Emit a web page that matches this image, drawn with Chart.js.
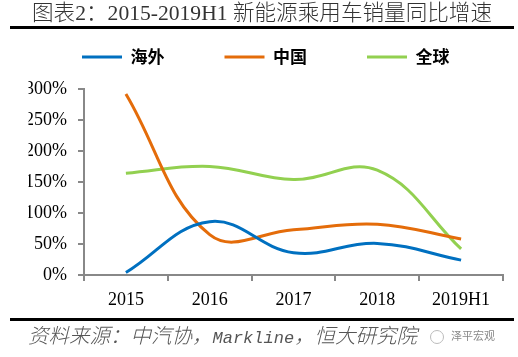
<!DOCTYPE html>
<html>
<head>
<meta charset="utf-8">
<script src="https://cdn.jsdelivr.net/npm/chart.js@4/dist/chart.umd.min.js"></script>
<style>
  html, body { margin: 0; padding: 0; background: #fff; }
  #wrap { position: relative; width: 518px; height: 357px; overflow: hidden; }
  #c { position: absolute; left: 0; top: 0; }
  .title { position: absolute; left: 32px; top: 1px; font-family: "Liberation Serif", "Noto Sans CJK SC", serif; font-weight: 300; font-size: 21.6px; color: #333; white-space: nowrap; line-height: 24px; }
  .rule { position: absolute; left: 10px; width: 504px; height: 3px; background: #000; }
  .foot { position: absolute; left: 28px; top: 322px; font-family: "Noto Sans CJK SC", sans-serif; font-weight: 300; font-style: italic; font-size: 20.5px; color: #555; white-space: nowrap; line-height: 24px; }
  .foot .lat { font-family: "Liberation Mono", monospace; font-size: 17px; }
  .wm { position: absolute; left: 430px; top: 327px; font-family: "Noto Sans CJK SC", sans-serif; font-size: 11px; color: #888; white-space: nowrap; line-height: 16px; }
  .wm span.ic { display: inline-block; width: 12px; height: 12px; border: 1px solid #bbb; border-radius: 50%; vertical-align: middle; margin-right: 7px; }
</style>
</head>
<body>
<div id="wrap">
  <canvas id="c" width="518" height="357"></canvas>
  <div class="title">图表2：2015-2019H1 新能源乘用车销量同比增速</div>
  <div class="rule" style="top:26px;"></div>
  <div class="rule" style="top:318px;"></div>
  <div class="foot">资料来源：中汽协，<span class="lat">Markline</span>，恒大研究院</div>
  <div class="wm"><span class="ic"></span>泽平宏观</div>
</div>
<script>
const categories = ["2015", "2016", "2017", "2018", "2019H1"];
const seriesNames = ["海外", "中国", "全球"];
const overseas = [4, 86, 36, 51, 24];
const china = [292, 65, 73, 82, 58];
const globalSales = [164, 175, 154, 169, 42];
const yTicks = [0, 50, 100, 150, 200, 250, 300];

const colors = ["#0070C0", "#E46C0A", "#92D050"];
const seriesValues = [overseas, china, globalSales];

const datasets = seriesNames.map((name, i) => ({
  label: name,
  data: seriesValues[i],
  borderColor: colors[i],
  backgroundColor: colors[i],
  borderWidth: 3,
  pointRadius: 0,
  tension: 0.4,
  fill: false
}));

const serif = "'Liberation Serif', 'Times New Roman', serif";

new Chart(document.getElementById("c"), {
  type: "line",
  data: { labels: categories, datasets },
  options: {
    responsive: false,
    animation: false,
    events: [],
    layout: { padding: { top: 39.5, left: 28.5, right: 15, bottom: 42 } },
    plugins: {
      tooltip: { enabled: false },
      legend: {
        display: true,
        position: "top",
        fullSize: true,
        labels: {
          boxWidth: 40,
          boxHeight: 3,
          padding: 9,
          color: "#000",
          font: { family: "'Noto Sans CJK SC', sans-serif", size: 17, weight: "bold" },
          generateLabels: (chart) => chart.data.datasets.map((ds, i, arr) => ({
            text: ds.label + (i < arr.length - 1 ? "\u3000\u3000\u3000" : ""),
            fillStyle: ds.borderColor,
            strokeStyle: ds.borderColor,
            lineWidth: 0,
            hidden: false,
            datasetIndex: i
          }))
        }
      },
      subtitle: {
        display: true,
        text: "",
        position: "top",
        weight: 500,
        font: { size: 1, lineHeight: 1 },
        padding: { top: 0, bottom: 12.5 }
      }
    },
    scales: {
      x: {
        offset: true,
        grid: { display: true, offset: true, drawOnChartArea: false, drawTicks: true, tickLength: 6, color: "#888", lineWidth: 2 },
        border: { display: true, color: "#888", width: 2 },
        ticks: { color: "#000", font: { family: serif, size: 18 }, padding: 8, maxRotation: 0, autoSkip: false },
        afterFit: (s) => { s.height = 40; }
      },
      y: {
        min: 0,
        max: 300,
        afterBuildTicks: (s) => { s.ticks = yTicks.map(v => ({ value: v })); },
        grid: { display: true, drawOnChartArea: false, drawTicks: true, tickLength: 6, color: "#888", lineWidth: 2 },
        border: { display: true, color: "#888", width: 2 },
        ticks: { color: "#000", font: { family: serif, size: 18 }, padding: 11, callback: (v) => v + "%" },
        afterFit: (s) => { s.width = 84 - 28.5; }
      }
    }
  }
});
</script>
</body>
</html>
